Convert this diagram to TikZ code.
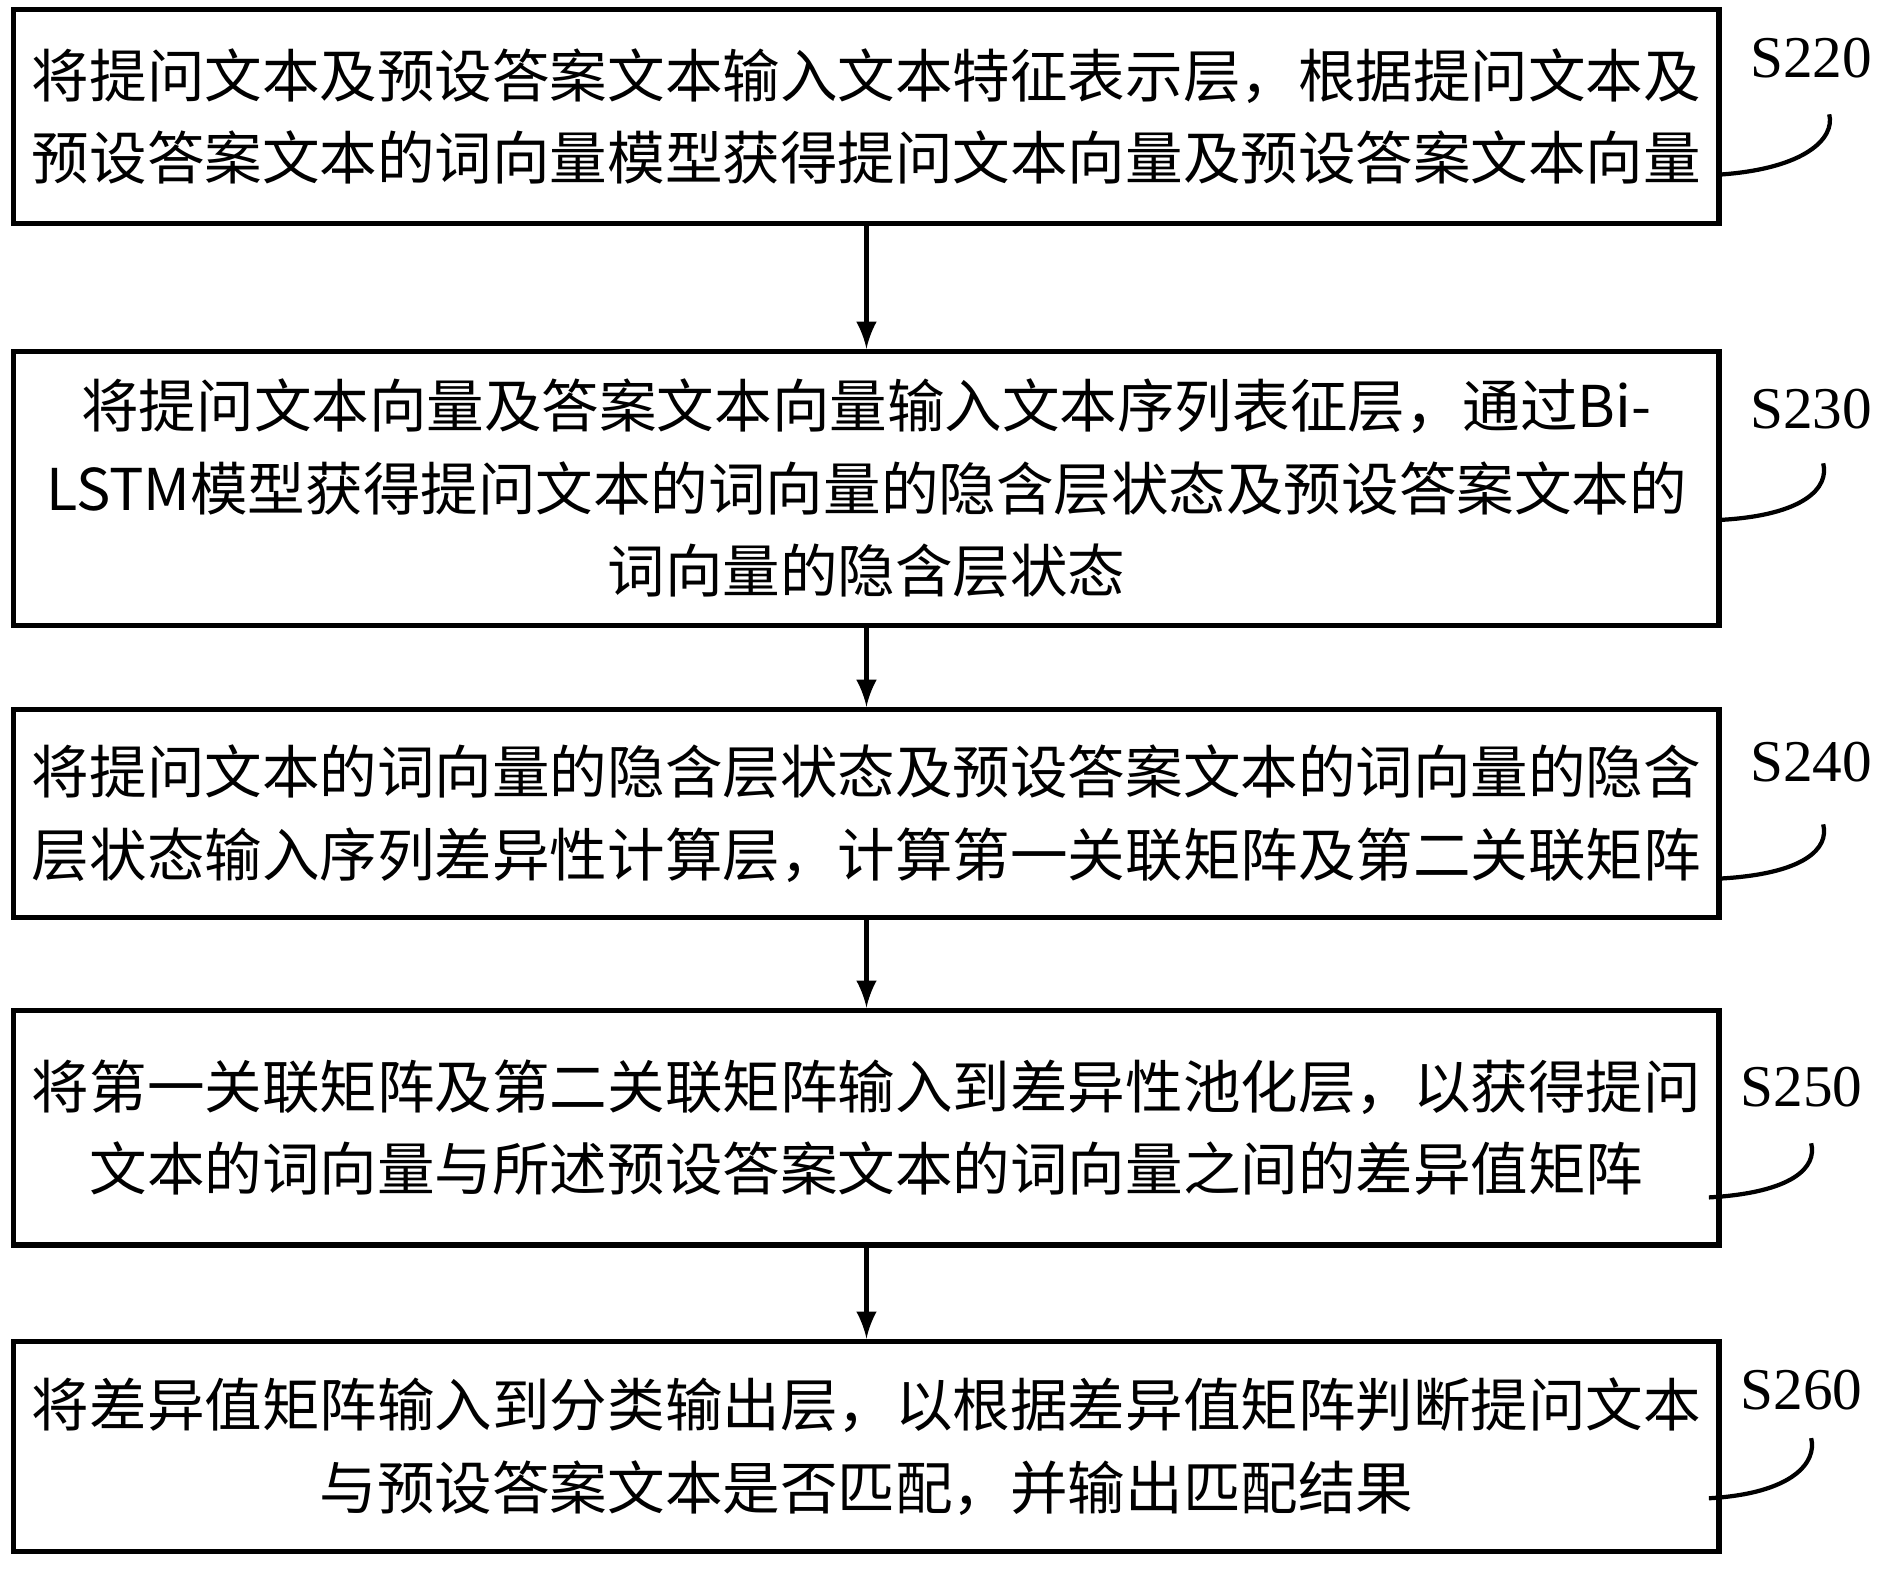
\documentclass[tikz,border=0pt]{standalone}
\usepackage{fontspec}
\setmainfont{Liberation Serif}
\newfontfamily\cjk{Noto Sans CJK SC}
\begin{document}
\begin{tikzpicture}[x=0.01cm,y=-0.01cm,
  box/.style={draw,line width=1.2pt,minimum width=14.16cm,align=center,font=\cjk\fontsize{13.6}{19.5}\selectfont,inner sep=0pt},
  lab/.style={font=\fontsize{14}{16}\selectfont},
  arr/.style={-latex,line width=1.2pt}]
\useasboundingbox (0,0) rectangle (1568,1303);
\node[box,minimum height=1.78cm] (b1) at (720,97) {将提问文本及预设答案文本输入文本特征表示层，根据提问文本及\\预设答案文本的词向量模型获得提问文本向量及预设答案文本向量};
\node[box,minimum height=2.28cm] (b2) at (720,406) {将提问文本向量及答案文本向量输入文本序列表征层，通过Bi-\\LSTM模型获得提问文本的词向量的隐含层状态及预设答案文本的\\词向量的隐含层状态};
\node[box,minimum height=1.73cm] (b3) at (720,676) {将提问文本的词向量的隐含层状态及预设答案文本的词向量的隐含\\层状态输入序列差异性计算层，计算第一关联矩阵及第二关联矩阵};
\node[box,minimum height=1.95cm] (b4) at (720,937) {将第一关联矩阵及第二关联矩阵输入到差异性池化层，以获得提问\\文本的词向量与所述预设答案文本的词向量之间的差异值矩阵};
\node[box,minimum height=1.75cm] (b5) at (720,1202) {将差异值矩阵输入到分类输出层，以根据差异值矩阵判断提问文本\\与预设答案文本是否匹配，并输出匹配结果};
\draw[arr] (b1) -- (b2);
\draw[arr] (b2) -- (b3);
\draw[arr] (b3) -- (b4);
\draw[arr] (b4) -- (b5);
\node[lab] (s1) at (1505,48) {S220};
\node[lab] (s2) at (1505,340) {S230};
\node[lab] (s3) at (1505,633) {S240};
\node[lab] (s4) at (1497,903) {S250};
\node[lab] (s5) at (1497,1155) {S260};
\draw[line width=1pt] (1430,145) .. controls (1500,140) and (1525,115) .. (1520,95);
\draw[line width=1pt] (1430,432) .. controls (1500,428) and (1520,405) .. (1515,385);
\draw[line width=1pt] (1430,730) .. controls (1500,726) and (1520,705) .. (1515,685);
\draw[line width=1pt] (1420,995) .. controls (1490,991) and (1510,970) .. (1505,950);
\draw[line width=1pt] (1420,1245) .. controls (1490,1241) and (1510,1215) .. (1505,1195);
\end{tikzpicture}
\end{document}
